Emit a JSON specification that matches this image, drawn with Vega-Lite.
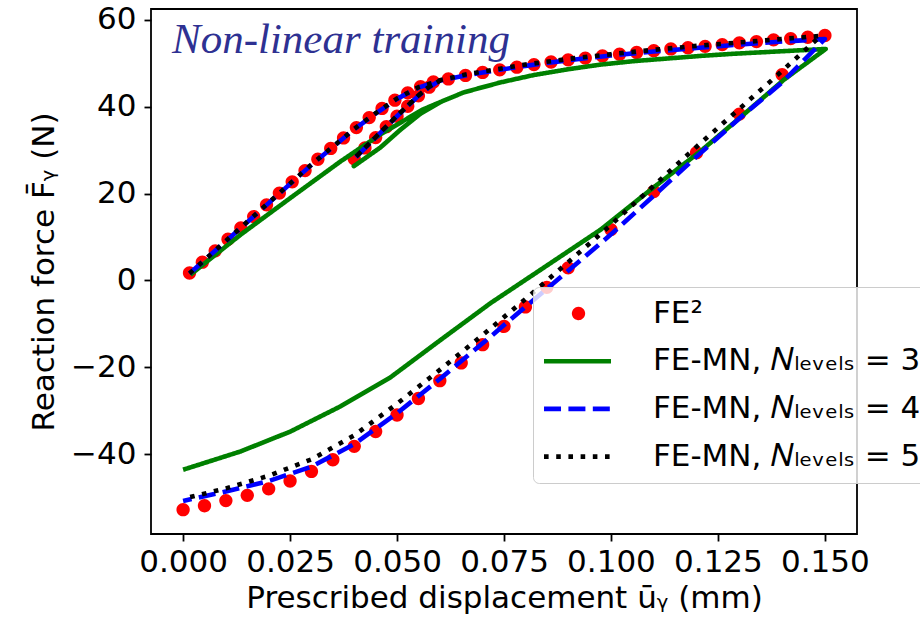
{
  "$schema": "https://vega.github.io/schema/vega-lite/v6.json",
  "width": 706,
  "height": 525,
  "autosize": {"type": "none"},
  "padding": {"left": 151, "top": 9, "right": 63, "bottom": 86},
  "background": "white",
  "data": {"values": [
    {"s":"FE2","i":0,"u":0.0015,"F":1.7},{"s":"FE2","i":1,"u":0.0045,"F":4.2},{"s":"FE2","i":2,"u":0.0075,"F":6.8},{"s":"FE2","i":3,"u":0.0105,"F":9.5},{"s":"FE2","i":4,"u":0.0135,"F":12.1},{"s":"FE2","i":5,"u":0.0165,"F":14.7},{"s":"FE2","i":6,"u":0.0195,"F":17.4},{"s":"FE2","i":7,"u":0.0225,"F":20.1},{"s":"FE2","i":8,"u":0.0255,"F":22.7},{"s":"FE2","i":9,"u":0.0285,"F":25.3},{"s":"FE2","i":10,"u":0.0315,"F":27.9},{"s":"FE2","i":11,"u":0.0345,"F":30.4},{"s":"FE2","i":12,"u":0.0375,"F":32.8},{"s":"FE2","i":13,"u":0.0405,"F":35.2},{"s":"FE2","i":14,"u":0.0435,"F":37.5},{"s":"FE2","i":15,"u":0.0465,"F":39.6},{"s":"FE2","i":16,"u":0.0495,"F":41.5},{"s":"FE2","i":17,"u":0.0525,"F":43.2},{"s":"FE2","i":18,"u":0.0555,"F":44.6},{"s":"FE2","i":19,"u":0.0585,"F":45.7},
    {"s":"FE2","i":20,"u":0.0575,"F":44.5},{"s":"FE2","i":21,"u":0.055,"F":42.5},{"s":"FE2","i":22,"u":0.0525,"F":40.1},{"s":"FE2","i":23,"u":0.05,"F":37.8},{"s":"FE2","i":24,"u":0.0475,"F":35.4},{"s":"FE2","i":25,"u":0.045,"F":32.9},{"s":"FE2","i":26,"u":0.0425,"F":30.5},{"s":"FE2","i":27,"u":0.04,"F":28.0},
    {"s":"FE2","i":28,"u":0.062,"F":46.4},{"s":"FE2","i":29,"u":0.066,"F":47.2},{"s":"FE2","i":30,"u":0.07,"F":47.9},{"s":"FE2","i":31,"u":0.074,"F":48.5},{"s":"FE2","i":32,"u":0.078,"F":49.1},{"s":"FE2","i":33,"u":0.082,"F":49.7},{"s":"FE2","i":34,"u":0.086,"F":50.3},{"s":"FE2","i":35,"u":0.09,"F":50.8},{"s":"FE2","i":36,"u":0.094,"F":51.2},{"s":"FE2","i":37,"u":0.098,"F":51.7},{"s":"FE2","i":38,"u":0.102,"F":52.1},{"s":"FE2","i":39,"u":0.106,"F":52.5},{"s":"FE2","i":40,"u":0.11,"F":52.9},{"s":"FE2","i":41,"u":0.114,"F":53.3},{"s":"FE2","i":42,"u":0.118,"F":53.6},{"s":"FE2","i":43,"u":0.122,"F":53.9},{"s":"FE2","i":44,"u":0.126,"F":54.3},{"s":"FE2","i":45,"u":0.13,"F":54.7},{"s":"FE2","i":46,"u":0.134,"F":55.0},{"s":"FE2","i":47,"u":0.138,"F":55.4},{"s":"FE2","i":48,"u":0.142,"F":55.7},{"s":"FE2","i":49,"u":0.146,"F":56.0},{"s":"FE2","i":50,"u":0.15,"F":56.4},
    {"s":"FE2","i":51,"u":0.14,"F":47.4},{"s":"FE2","i":52,"u":0.13,"F":38.3},{"s":"FE2","i":53,"u":0.12,"F":29.4},{"s":"FE2","i":54,"u":0.11,"F":20.5},{"s":"FE2","i":55,"u":0.1,"F":11.7},{"s":"FE2","i":56,"u":0.09,"F":2.9},{"s":"FE2","i":57,"u":0.085,"F":-1.6},{"s":"FE2","i":58,"u":0.08,"F":-6.1},{"s":"FE2","i":59,"u":0.075,"F":-10.6},{"s":"FE2","i":60,"u":0.07,"F":-14.8},{"s":"FE2","i":61,"u":0.065,"F":-19.0},{"s":"FE2","i":62,"u":0.06,"F":-23.1},{"s":"FE2","i":63,"u":0.055,"F":-27.2},{"s":"FE2","i":64,"u":0.05,"F":-31.0},{"s":"FE2","i":65,"u":0.045,"F":-34.8},{"s":"FE2","i":66,"u":0.04,"F":-38.2},{"s":"FE2","i":67,"u":0.035,"F":-41.3},{"s":"FE2","i":68,"u":0.03,"F":-44.0},{"s":"FE2","i":69,"u":0.025,"F":-46.2},{"s":"FE2","i":70,"u":0.02,"F":-48.0},{"s":"FE2","i":71,"u":0.015,"F":-49.5},{"s":"FE2","i":72,"u":0.01,"F":-50.7},{"s":"FE2","i":73,"u":0.005,"F":-51.9},{"s":"FE2","i":74,"u":0.0,"F":-52.8},

    {"s":"N3","i":0,"u":0.0017,"F":1.3},{"s":"N3","i":1,"u":0.0134,"F":10.5},{"s":"N3","i":2,"u":0.0251,"F":19.0},{"s":"N3","i":3,"u":0.0368,"F":27.4},{"s":"N3","i":4,"u":0.0461,"F":33.6},{"s":"N3","i":5,"u":0.0559,"F":39.3},{"s":"N3","i":6,"u":0.0602,"F":41.1},
    {"s":"N3","i":7,"u":0.0555,"F":38.4},{"s":"N3","i":8,"u":0.0508,"F":34.7},{"s":"N3","i":9,"u":0.0461,"F":30.6},{"s":"N3","i":10,"u":0.0399,"F":26.3},
    {"s":"N3","i":11,"u":0.0461,"F":30.6},{"s":"N3","i":12,"u":0.0508,"F":34.7},{"s":"N3","i":13,"u":0.0555,"F":38.4},{"s":"N3","i":14,"u":0.0602,"F":41.1},{"s":"N3","i":15,"u":0.0656,"F":43.3},{"s":"N3","i":16,"u":0.0742,"F":45.6},{"s":"N3","i":17,"u":0.082,"F":47.3},{"s":"N3","i":18,"u":0.0898,"F":48.6},{"s":"N3","i":19,"u":0.0976,"F":49.7},{"s":"N3","i":20,"u":0.1054,"F":50.5},{"s":"N3","i":21,"u":0.1132,"F":51.1},{"s":"N3","i":22,"u":0.121,"F":51.7},{"s":"N3","i":23,"u":0.1288,"F":52.2},{"s":"N3","i":24,"u":0.1366,"F":52.6},{"s":"N3","i":25,"u":0.1444,"F":53.0},{"s":"N3","i":26,"u":0.1502,"F":53.3},
    {"s":"N3","i":27,"u":0.1404,"F":46.2},{"s":"N3","i":28,"u":0.1303,"F":37.6},{"s":"N3","i":29,"u":0.121,"F":29.8},{"s":"N3","i":30,"u":0.1093,"F":20.9},{"s":"N3","i":31,"u":0.0976,"F":11.7},{"s":"N3","i":32,"u":0.085,"F":3.4},{"s":"N3","i":33,"u":0.0719,"F":-5.2},{"s":"N3","i":34,"u":0.0602,"F":-13.7},{"s":"N3","i":35,"u":0.0485,"F":-22.3},{"s":"N3","i":36,"u":0.0368,"F":-29.0},{"s":"N3","i":37,"u":0.0251,"F":-34.8},{"s":"N3","i":38,"u":0.0134,"F":-39.4},{"s":"N3","i":39,"u":0.0,"F":-43.6},

    {"s":"N4","i":0,"u":0.0015,"F":1.6},{"s":"N4","i":1,"u":0.01,"F":9.0},{"s":"N4","i":2,"u":0.02,"F":17.8},{"s":"N4","i":3,"u":0.03,"F":26.6},{"s":"N4","i":4,"u":0.04,"F":34.8},{"s":"N4","i":5,"u":0.045,"F":38.4},{"s":"N4","i":6,"u":0.05,"F":41.8},{"s":"N4","i":7,"u":0.055,"F":44.4},{"s":"N4","i":8,"u":0.06,"F":46.0},
    {"s":"N4","i":9,"u":0.0575,"F":44.5},{"s":"N4","i":10,"u":0.055,"F":42.5},{"s":"N4","i":11,"u":0.05,"F":37.8},{"s":"N4","i":12,"u":0.045,"F":32.9},{"s":"N4","i":13,"u":0.04,"F":28.0},
    {"s":"N4","i":14,"u":0.045,"F":32.9},{"s":"N4","i":15,"u":0.05,"F":37.8},{"s":"N4","i":16,"u":0.055,"F":42.5},{"s":"N4","i":17,"u":0.0575,"F":44.5},{"s":"N4","i":18,"u":0.06,"F":46.0},{"s":"N4","i":19,"u":0.066,"F":47.2},{"s":"N4","i":20,"u":0.07,"F":47.9},{"s":"N4","i":21,"u":0.08,"F":49.4},{"s":"N4","i":22,"u":0.09,"F":50.7},{"s":"N4","i":23,"u":0.1,"F":51.8},{"s":"N4","i":24,"u":0.11,"F":52.7},{"s":"N4","i":25,"u":0.12,"F":53.5},{"s":"N4","i":26,"u":0.13,"F":54.3},{"s":"N4","i":27,"u":0.14,"F":55.0},{"s":"N4","i":28,"u":0.15,"F":55.6},
    {"s":"N4","i":29,"u":0.14,"F":45.6},{"s":"N4","i":30,"u":0.13,"F":37.3},{"s":"N4","i":31,"u":0.12,"F":28.5},{"s":"N4","i":32,"u":0.11,"F":19.5},{"s":"N4","i":33,"u":0.1,"F":10.6},{"s":"N4","i":34,"u":0.09,"F":2.2},{"s":"N4","i":35,"u":0.08,"F":-6.1},{"s":"N4","i":36,"u":0.07,"F":-14.5},{"s":"N4","i":37,"u":0.06,"F":-22.7},{"s":"N4","i":38,"u":0.05,"F":-30.6},{"s":"N4","i":39,"u":0.04,"F":-37.7},{"s":"N4","i":40,"u":0.03,"F":-42.9},{"s":"N4","i":41,"u":0.02,"F":-46.2},{"s":"N4","i":42,"u":0.01,"F":-48.6},{"s":"N4","i":43,"u":0.0,"F":-50.8},

    {"s":"N5","i":0,"u":0.0015,"F":1.6},{"s":"N5","i":1,"u":0.01,"F":9.1},{"s":"N5","i":2,"u":0.02,"F":17.9},{"s":"N5","i":3,"u":0.03,"F":26.7},{"s":"N5","i":4,"u":0.04,"F":34.9},{"s":"N5","i":5,"u":0.045,"F":38.5},{"s":"N5","i":6,"u":0.05,"F":41.9},{"s":"N5","i":7,"u":0.055,"F":44.5},{"s":"N5","i":8,"u":0.06,"F":46.0},
    {"s":"N5","i":9,"u":0.0575,"F":44.6},{"s":"N5","i":10,"u":0.055,"F":42.6},{"s":"N5","i":11,"u":0.05,"F":37.9},{"s":"N5","i":12,"u":0.045,"F":33.0},{"s":"N5","i":13,"u":0.04,"F":28.1},
    {"s":"N5","i":14,"u":0.045,"F":33.0},{"s":"N5","i":15,"u":0.05,"F":37.9},{"s":"N5","i":16,"u":0.055,"F":42.6},{"s":"N5","i":17,"u":0.0575,"F":44.6},{"s":"N5","i":18,"u":0.06,"F":46.1},{"s":"N5","i":19,"u":0.066,"F":47.4},{"s":"N5","i":20,"u":0.07,"F":48.1},{"s":"N5","i":21,"u":0.08,"F":49.7},{"s":"N5","i":22,"u":0.09,"F":51.0},{"s":"N5","i":23,"u":0.1,"F":52.1},{"s":"N5","i":24,"u":0.11,"F":53.1},{"s":"N5","i":25,"u":0.12,"F":54.0},{"s":"N5","i":26,"u":0.13,"F":54.8},{"s":"N5","i":27,"u":0.14,"F":55.6},{"s":"N5","i":28,"u":0.149,"F":56.3},
    {"s":"N5","i":29,"u":0.144,"F":51.8},{"s":"N5","i":30,"u":0.137,"F":45.6},{"s":"N5","i":31,"u":0.13,"F":39.5},{"s":"N5","i":32,"u":0.12,"F":30.8},{"s":"N5","i":33,"u":0.11,"F":21.8},{"s":"N5","i":34,"u":0.1,"F":12.8},{"s":"N5","i":35,"u":0.09,"F":4.2},{"s":"N5","i":36,"u":0.08,"F":-4.3},{"s":"N5","i":37,"u":0.07,"F":-12.6},{"s":"N5","i":38,"u":0.06,"F":-20.6},{"s":"N5","i":39,"u":0.05,"F":-28.4},{"s":"N5","i":40,"u":0.04,"F":-35.7},{"s":"N5","i":41,"u":0.03,"F":-41.2},{"s":"N5","i":42,"u":0.02,"F":-45.0},{"s":"N5","i":43,"u":0.01,"F":-47.9},{"s":"N5","i":44,"u":0.0,"F":-50.3}
  ]},
  "layer": [
    {
      "transform": [{"filter": "datum.s == 'FE2'"}],
      "mark": {"type": "point", "filled": true, "size": 361, "opacity": 1, "strokeWidth": 0},
      "encoding": {
        "x": {"field": "u", "type": "quantitative", "scale": {"domain": [-0.0075, 0.1575], "nice": false, "zero": false},
          "axis": {"title": "Prescribed displacement ūᵧ (mm)", "values": [0, 0.025, 0.05, 0.075, 0.1, 0.125, 0.15], "format": ".3f", "labelPadding": 6, "titlePadding": 30, "titleBaseline": "alphabetic", "labelFlush": false, "labelOverlap": false}},
        "y": {"field": "F", "type": "quantitative", "scale": {"domain": [-58.4, 62.5], "nice": false, "zero": false},
          "axis": {"title": "Reaction force F̄ᵧ (N)", "values": [-40, -20, 0, 20, 40, 60], "labelPadding": 8, "titlePadding": 17, "titleBaseline": "alphabetic", "labelOverlap": false}},
        "color": {"field": "s", "type": "nominal",
          "scale": {"domain": ["FE2", "N3", "N4", "N5"], "range": ["#ff0000", "#008000", "#0000ff", "#000000"]},
          "legend": {
            "orient": "none", "legendX": 382, "legendY": 278, "direction": "vertical", "title": null,
            "symbolSize": 155, "symbolStrokeWidth": 4.6, "symbolOffset": 19, "symbolOpacity": 1,
            "labelFont": "DejaVu Sans", "labelFontSize": 31, "labelColor": "black", "labelOffset": 59, "labelLimit": 1000,
            "rowPadding": 15.7, "padding": 11,
            "fillColor": "rgba(255,255,255,0.8)", "strokeColor": "#cccccc", "cornerRadius": 6,
            "labelExpr": "datum.label == 'FE2' ? 'FE²' : 'FE-MN, 𝑁ₗₑᵥₑₗₛ = ' + substring(datum.label, 1)"
          }},
        "shape": {"field": "s", "type": "nominal",
          "scale": {"domain": ["FE2", "N3", "N4", "N5"], "range": ["M0.7,0A0.7,0.7,0,1,1,-0.7,0A0.7,0.7,0,1,1,0.7,0Z", "M-5.54,0H5.22", "M-5.54,0H5.22", "M-5.54,0H5.22"]}}
      }
    },
    {
      "transform": [{"filter": "datum.s != 'FE2'"}],
      "mark": {"type": "line", "strokeWidth": 4.6, "strokeCap": "butt", "strokeJoin": "round"},
      "encoding": {
        "x": {"field": "u", "type": "quantitative"},
        "y": {"field": "F", "type": "quantitative"},
        "color": {"field": "s", "type": "nominal"},
        "strokeDash": {"field": "s", "type": "nominal", "scale": {"domain": ["FE2", "N3", "N4", "N5"], "range": [[1, 0], [1, 0], [17, 7.4], [4.6, 7.6]]}},
        "order": {"field": "i", "type": "quantitative"}
      }
    },
    {
      "transform": [{"filter": "datum.s == 'FE2' && datum.i == 0"}],
      "mark": {"type": "text", "text": "Non-linear training", "font": "Liberation Serif", "fontStyle": "italic", "fontWeight": "normal", "fontSize": 43, "align": "left", "baseline": "alphabetic", "color": "#2e3192"},
      "encoding": {
        "x": {"datum": -0.0026, "type": "quantitative"},
        "y": {"datum": 52.4, "type": "quantitative"}
      }
    }
  ],
  "config": {
    "view": {"stroke": "black", "strokeWidth": 1.8},
    "axis": {"domain": false, "grid": false, "tickColor": "black", "tickWidth": 1.8, "tickSize": 7,
      "labelFont": "DejaVu Sans", "labelFontSize": 31, "labelColor": "black",
      "titleFont": "DejaVu Sans", "titleFontSize": 31, "titleFontWeight": "normal", "titleColor": "black"}
  }
}
